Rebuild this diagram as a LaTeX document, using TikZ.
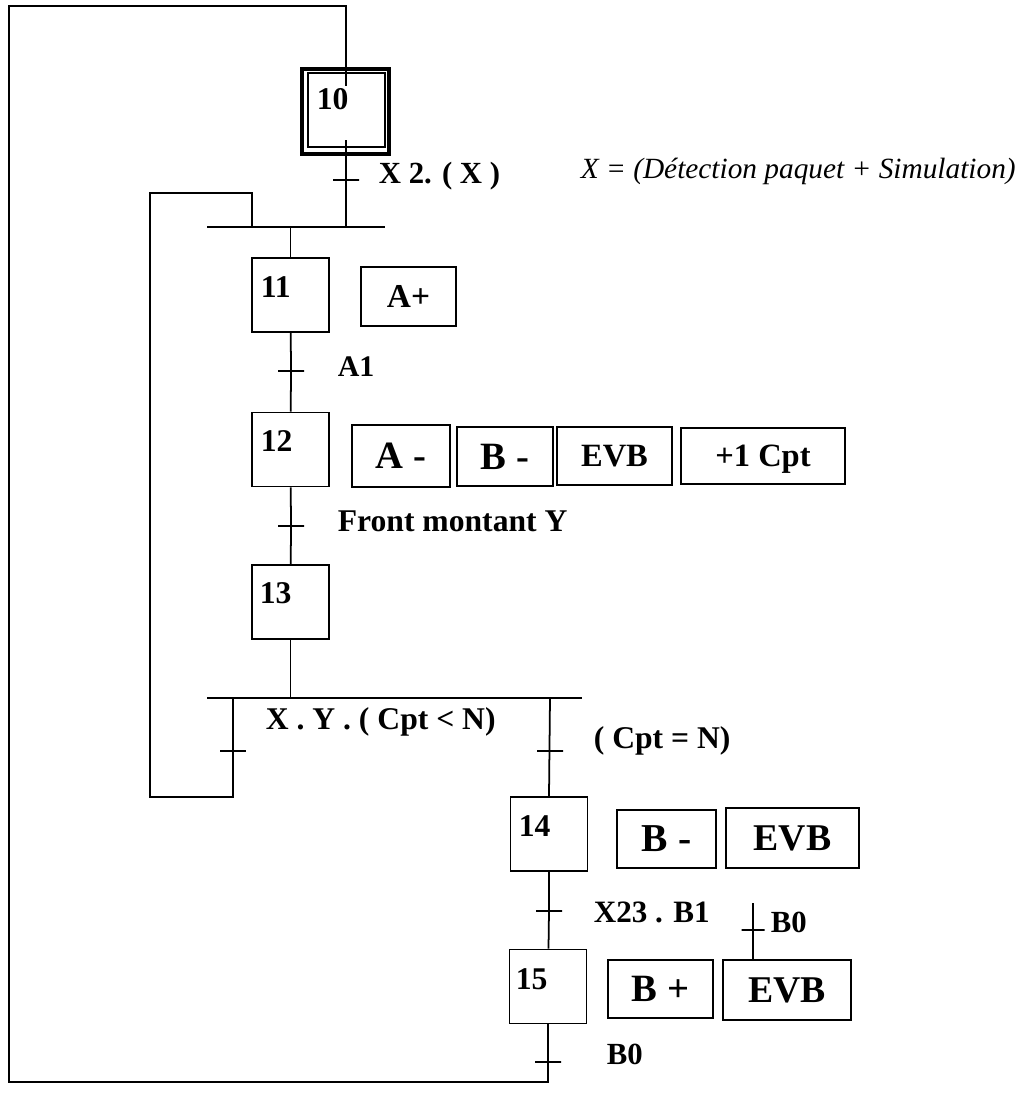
\documentclass[tikz,border=0pt]{standalone}
\usepackage{fontspec}
\setmainfont{Liberation Serif}
\usetikzlibrary{calc}
\tikzset{
  stp/.style={rectangle,draw,line width=1.1pt,minimum width=1.54cm,minimum height=1.48cm,inner sep=0pt},
  num/.style={anchor=north west,inner sep=0pt,font=\bfseries\fontsize{18}{20}\selectfont},
  act/.style={rectangle,draw,line width=0.8pt,inner sep=0pt,text depth=0pt,font=\bfseries\fontsize{18.5}{20}\selectfont},
  tr/.style={rectangle,draw,line width=1pt,minimum width=0.52cm,minimum height=0pt,inner sep=0pt,outer sep=0pt},
  lbl/.style={anchor=west,inner sep=0pt,font=\bfseries\fontsize{18}{20}\selectfont},
  every picture/.style={line width=1pt},
}
\begin{document}
\begin{tikzpicture}[x=0.02cm,y=-0.02cm]
\useasboundingbox (0,0) rectangle (1020,1096);
% steps
\node[stp] (s10) at (346.5,110){};
\node[rectangle,draw,line width=2.2pt,minimum width=1.74cm,minimum height=1.70cm,inner sep=0pt] (s10o) at (345.5,111.5){};
\node[stp] (s11) at (290.5,295){}; \node[stp] (s12) at (290.5,449.5){};
\node[stp] (s13) at (290.5,602){}; \node[stp] (s14) at (549,834){};
\node[stp] (s15) at (548,986.5){};
\node[num] (n10) at (316,88){10}; \node[num] (n11) at (260,276){11};
\node[num] (n12) at (260,430){12}; \node[num] (n13) at (259,582){13};
\node[num] (n14) at (518,815){14}; \node[num] (n15) at (515,968){15};
% actions
\node[act,minimum width=1.9cm,minimum height=1.18cm,font=\bfseries\fontsize{19}{21}\selectfont] (a11) at (408.5,296.5){A+};
\node[act,minimum width=1.96cm,minimum height=1.24cm,font=\bfseries\fontsize{22}{24}\selectfont] (a12a) at (401,456){A -};
\node[act,minimum width=1.92cm,minimum height=1.18cm,font=\bfseries\fontsize{22}{24}\selectfont] (a12b) at (505,456.5){B -};
\node[act,minimum width=2.3cm,minimum height=1.16cm] (a12c) at (614.5,456){EVB};
\node[act,minimum width=3.28cm,minimum height=1.12cm] (a12d) at (763,456){+1 Cpt};
\node[act,minimum width=1.98cm,minimum height=1.16cm,font=\bfseries\fontsize{22.5}{24}\selectfont] (a14a) at (666.5,839){B -};
\node[act,minimum width=2.66cm,minimum height=1.2cm,font=\bfseries\fontsize{21.5}{23}\selectfont] (a14b) at (792.5,838){EVB};
\node[act,minimum width=2.1cm,minimum height=1.16cm,font=\bfseries\fontsize{22}{24}\selectfont] (a15a) at (660.5,989){B +};
\node[act,minimum width=2.56cm,minimum height=1.2cm,font=\bfseries\fontsize{21.5}{23}\selectfont] (a15b) at (787,990){EVB};
% transitions
\node[tr] (t0) at (346,180){}; \node[tr] (t1) at (291,371){};
\node[tr] (t2) at (291,526){}; \node[tr] (t3l) at (233,751){};
\node[tr] (t3r) at (550,751){}; \node[tr] (t4) at (549,911){};
\node[tr] (t5) at (548,1062){}; \node[tr,minimum width=0.46cm] (tb) at (753,930){};
\node[lbl,font=\bfseries\fontsize{17.5}{19}\selectfont] (l0) at (378,176){X 2. ( X )};
\node[lbl,font=\itshape\fontsize{16.7}{18}\selectfont] (lx) at (580,171){X = (Détection paquet + Simulation)};
\node[lbl,font=\bfseries\fontsize{17}{19}\selectfont] (l1) at (337,367){A1};
\node[lbl] (l2) at (337,521){Front montant Y};
\node[lbl] (l3l) at (265,722){X . Y . ( Cpt < N)};
\node[lbl] (l3r) at (593,741){( Cpt = N)};
\node[lbl,font=\bfseries\fontsize{17.7}{19}\selectfont] (l4) at (593,912){X23 . B1};
\node[lbl,font=\bfseries\fontsize{17.5}{19}\selectfont] (lb) at (770,922){B0};
\node[lbl,font=\bfseries\fontsize{17.5}{19}\selectfont] (l5) at (606,1054){B0};
% bars and loops
\coordinate (b1l) at (207,227); \coordinate (b1r) at (385,227);
\coordinate (b2l) at (207,698); \coordinate (b2r) at (582,698);
\coordinate (o10) at (346,140); \coordinate (e10) at (346,86);
\coordinate (bl) at (9,1082); \coordinate (tp) at (346,6);
\coordinate (j1) at (233,698); \coordinate (lp1) at (150,797); \coordinate (lp2) at (252,193);
\coordinate (tbt) at (753,903);
\draw (b1l) -- (b1r); \draw (b2l) -- (b2r);
\draw (o10) -- (o10 |- b1l);
\draw (s11.north |- b1l) -- (s11.north);
\draw (s11) -- (t1.center) -- (s12); \draw (s12) -- (t2.center) -- (s13);
\draw (s13.south) -- (s13.south |- b2l);
\draw (j1) |- (lp1) |- (lp2) -- (lp2 |- b1l);
\draw (t3r.center |- b2l) -- (s14.north);
\draw (s14) -- (t4.center) -- (s15);
\draw (s15.south) |- (bl) |- (tp) -- (e10);
\draw (tbt) -- (tbt |- a15b.north);
\end{tikzpicture}
\end{document}
